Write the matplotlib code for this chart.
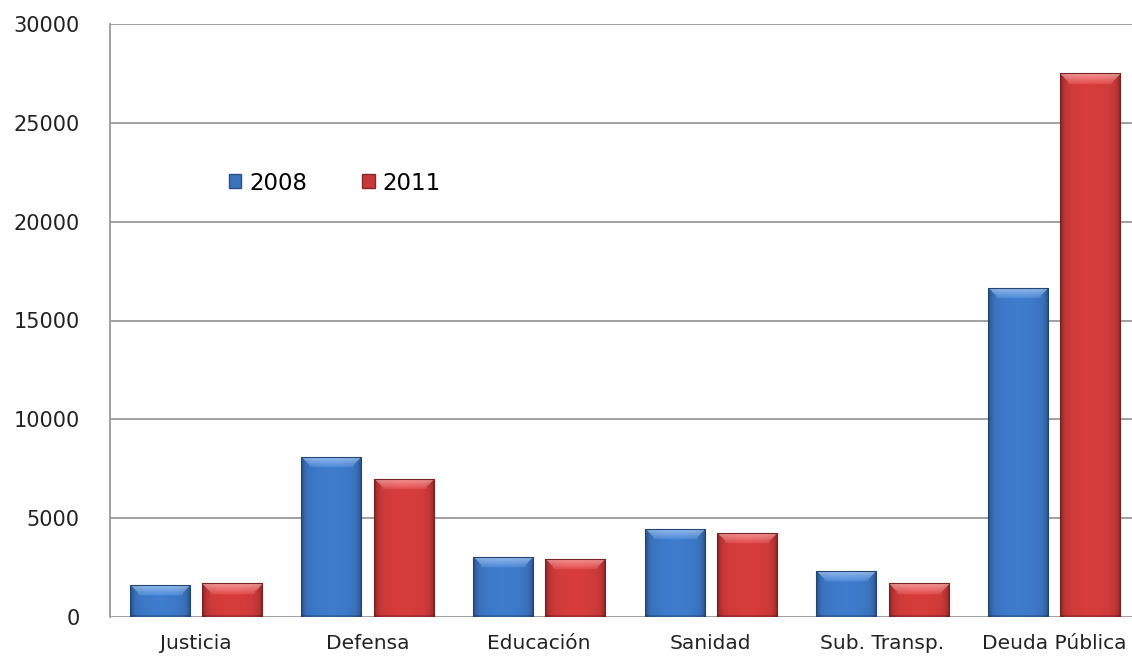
import numpy as np
import matplotlib
matplotlib.use('Agg')
import matplotlib.pyplot as plt
from matplotlib.patches import Patch

# data
categorias = ['Justicia', 'Defensa', 'Educación', 'Sanidad', 'Sub. Transp.', 'Deuda Pública']
gasto_2008 = [1620, 8100, 3040, 4460, 2330, 16650]
gasto_2011 = [1720, 6990, 2940, 4260, 1720, 27500]
yticks = [0, 5000, 10000, 15000, 20000, 25000, 30000]

azul = np.array([58, 115, 190]) / 255.
rojo = np.array([200, 56, 56]) / 255.

fig = plt.figure(figsize=(11.32, 6.65), dpi=100)
ax = fig.add_axes([110/1132, 1 - 617/665, 1030/1132, 593/665])
ax.set_xlim(-0.5, 5.5)
ax.set_ylim(0, 30000)

x = np.arange(len(categorias))
w = 0.35
b1 = ax.bar(x - 0.21, gasto_2008, w, color=azul, edgecolor='none', zorder=2)
b2 = ax.bar(x + 0.21, gasto_2011, w, color=rojo, edgecolor='none', zorder=2)

px_per_unit = (593 / 30000.)


def sombrear(rect, base):
    # fake the Excel bevel: darker sides, lighter top band
    x0, bw, h = rect.get_x(), rect.get_width(), rect.get_height()
    nrow = max(int(h * px_per_unit), 2)
    ncol = 60
    u = np.linspace(0, 1, ncol)
    d = np.abs(2 * u - 1)
    horiz = 1.08 - 0.12 * d ** 2 - 0.35 * d ** 12
    img = np.ones((nrow, ncol, 3)) * base
    img = img * horiz[None, :, None]
    bev = 11
    for r in range(min(bev, nrow)):
        t = 1 - r / bev
        # trapezoid shaped bevel at the top
        m = (u > r / ncol * 0.9) & (u < 1 - r / ncol * 0.9)
        img[r, m] = img[r, m] + (1 - img[r, m]) * 0.4 * t + 0.05
    img[-2:, :] *= 0.8
    img = np.clip(img, 0, 1)
    im = ax.imshow(img, extent=(x0, x0 + bw, 0, h), aspect='auto',
                   origin='upper', zorder=3, interpolation='bilinear')
    im.set_clip_path(rect)
    ax.add_patch(plt.Rectangle((x0, 0), bw, h, fill=False,
                               edgecolor=base * 0.6, lw=0.8, zorder=4))


for r in b1:
    sombrear(r, azul)
for r in b2:
    sombrear(r, rojo)
ax.set_xlim(-0.5, 5.5)
ax.set_ylim(0, 30000)

ax.set_yticks(yticks)
ax.set_yticklabels([str(v) for v in yticks])
ax.set_xticks(x)
ax.set_xticklabels(categorias)
ax.tick_params(axis='y', length=0, pad=22, labelsize=15, colors='#222222')
ax.tick_params(axis='x', length=0, pad=12, labelsize=14.5, colors='#222222')
ax.grid(axis='y', color='#999999', lw=1.3, zorder=1)
ax.set_axisbelow(True)
for s in ['top', 'right', 'bottom']:
    ax.spines[s].set_visible(False)
ax.spines['left'].set_color('#999999')
ax.spines['left'].set_linewidth(1.3)

handles = [Patch(facecolor=azul, edgecolor=azul * 0.7, label='2008'),
           Patch(facecolor=rojo, edgecolor=rojo * 0.7, label='2011')]
ax.legend(handles=handles, loc='center left', bbox_to_anchor=(208/1132, 1 - 183/665),
          bbox_transform=fig.transFigure, frameon=False, ncol=2, fontsize=16.5,
          handlelength=0.55, handleheight=0.55, handletextpad=0.35, columnspacing=2.4)

fig.savefig('out.png', dpi=100)
